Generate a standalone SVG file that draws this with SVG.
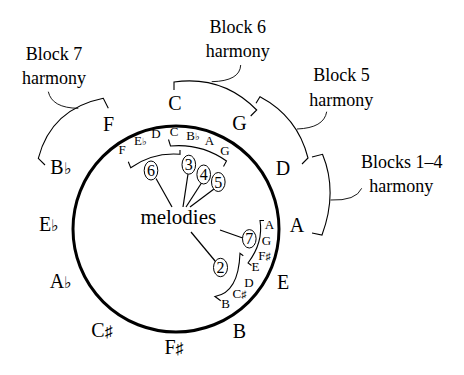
<svg xmlns="http://www.w3.org/2000/svg" width="464" height="375" viewBox="0 0 464 375">
<style>
text{fill:#000;text-anchor:middle;font-family:'Liberation Serif',serif}
.n{font-size:20px}
.s{font-size:13px}
.b{font-size:18px}
.d{font-size:16px}
.m{font-size:21px}
.ac{font-size:0.8em}
.br{fill:none;stroke:#000;stroke-width:1.1}
.pt{fill:none;stroke:#000;stroke-width:0.9}
.ln{stroke:#000;stroke-width:1.2}
.oc{fill:#fff;stroke:#000;stroke-width:1}
</style>
<rect width="464" height="375" fill="#fff"/>
<g id="main-circle"><circle cx="176" cy="229" r="103" fill="none" stroke="#000" stroke-width="3"/></g>
<g id="outer-notes">
<text class="n" x="175" y="110">C</text>
<text class="n" x="239.5" y="130">G</text>
<text class="n" x="283" y="175">D</text>
<text class="n" x="297" y="231.5">A</text>
<text class="n" x="283" y="289">E</text>
<text class="n" x="239.5" y="338">B</text>
<text class="n" x="174" y="354">F<tspan class="ac">♯</tspan></text>
<text class="n" x="102" y="337">C<tspan class="ac">♯</tspan></text>
<text class="n" x="61" y="288">A<tspan class="ac">♭</tspan></text>
<text class="n" x="49" y="231">E<tspan class="ac">♭</tspan></text>
<text class="n" x="61" y="174">B<tspan class="ac">♭</tspan></text>
<text class="n" x="108.5" y="130.5">F</text>
</g>
<g id="inner-notes">
<text class="s" x="122" y="153.5">F</text>
<text class="s" x="140.5" y="144.5">E<tspan class="ac">♭</tspan></text>
<text class="s" x="156" y="138">D</text>
<text class="s" x="174" y="136">C</text>
<text class="s" x="193" y="140">B<tspan class="ac">♭</tspan></text>
<text class="s" x="209.5" y="145">A</text>
<text class="s" x="225" y="154.5">G</text>
<text class="s" x="269.5" y="229">A</text>
<text class="s" x="266.5" y="244.5">G</text>
<text class="s" x="264.5" y="260">F<tspan class="ac">♯</tspan></text>
<text class="s" x="255.5" y="271">E</text>
<text class="s" x="249" y="287">D</text>
<text class="s" x="239.5" y="297.5">C<tspan class="ac">♯</tspan></text>
<text class="s" x="225.5" y="308">B</text>
</g>
<g id="block-labels">
<text class="b" x="54" y="60">Block 7</text>
<text class="b" x="54" y="84">harmony</text>
<text class="b" x="237.7" y="33.3">Block 6</text>
<text class="b" x="237.7" y="57.3">harmony</text>
<text class="b" x="341.5" y="80.7">Block 5</text>
<text class="b" x="341.3" y="105.5">harmony</text>
<text class="b" x="401.7" y="168.3">Blocks 1–4</text>
<text class="b" x="401.3" y="191.5">harmony</text>
</g>
<g id="melodies"><text class="m" x="178.3" y="224.3">melodies</text></g>
<g id="connectors">
<path class="br" d="M108.3,108.3 L103.3,98.3 Q51.3,108.8 38.3,158.3 L45,165"/>
<path class="br" d="M174,90 L174,82 Q222.5,75.2 256.7,110 L250.7,116"/>
<path class="br" d="M256,103.3 L260,96.7 Q297.7,116.7 308,158 L302,164"/>
<path class="br" d="M312,157 L322.5,154.3 Q338,192 322,235 L312,233"/>
<path class="br" d="M128.3,161.7 L130.7,167.7 A75.5,75.5 0 0 1 180,154.3 L180,150"/>
<path class="br" d="M168.5,139.5 L170.5,146 A84,84 0 0 1 226.5,161 L223.5,166.5"/>
<path class="br" d="M264,220.5 L260,220.5 Q263.6,242.3 248,263 L251.5,265.5"/>
<path class="br" d="M243.3,255.7 L240,253.3 Q238.5,292.75 215,296.5 L220.7,300.7"/>
<path class="pt" d="M48.3,91.7 Q52,108 78.3,108.3"/>
<path class="pt" d="M240.7,65 Q240,81 211.7,81.7"/>
<path class="pt" d="M326.7,111.7 Q324,128 297,129"/>
<path class="pt" d="M361.7,188.3 Q356,201 330.5,200"/>
<line class="ln" x1="156" y1="178.5" x2="172" y2="207"/>
<line class="ln" x1="188" y1="174" x2="183" y2="207"/>
<line class="ln" x1="201.5" y1="183" x2="186" y2="207"/>
<line class="ln" x1="214" y1="189" x2="190" y2="207"/>
<line class="ln" x1="220" y1="230" x2="242.7" y2="238"/>
<line class="ln" x1="191" y1="232" x2="215.5" y2="261.5"/>
</g>
<g id="melody-6"><ellipse class="oc" cx="151" cy="170.5" rx="6.8" ry="9.5"/><text class="d" x="151" y="176">6</text></g>
<g id="melody-3"><ellipse class="oc" cx="188.8" cy="164.7" rx="6.8" ry="9.5"/><text class="d" x="188.8" y="170.2">3</text></g>
<g id="melody-4"><ellipse class="oc" cx="203.7" cy="174.5" rx="6.8" ry="9.5"/><text class="d" x="203.7" y="180">4</text></g>
<g id="melody-5"><ellipse class="oc" cx="218.3" cy="182" rx="6.8" ry="9.5"/><text class="d" x="218.3" y="187.5">5</text></g>
<g id="melody-7"><ellipse class="oc" cx="249.3" cy="238.8" rx="6.8" ry="9.2"/><text class="d" x="249.3" y="244.3">7</text></g>
<g id="melody-2"><ellipse class="oc" cx="220.5" cy="267.5" rx="7" ry="9.2"/><text class="d" x="220.5" y="273">2</text></g>
</svg>
